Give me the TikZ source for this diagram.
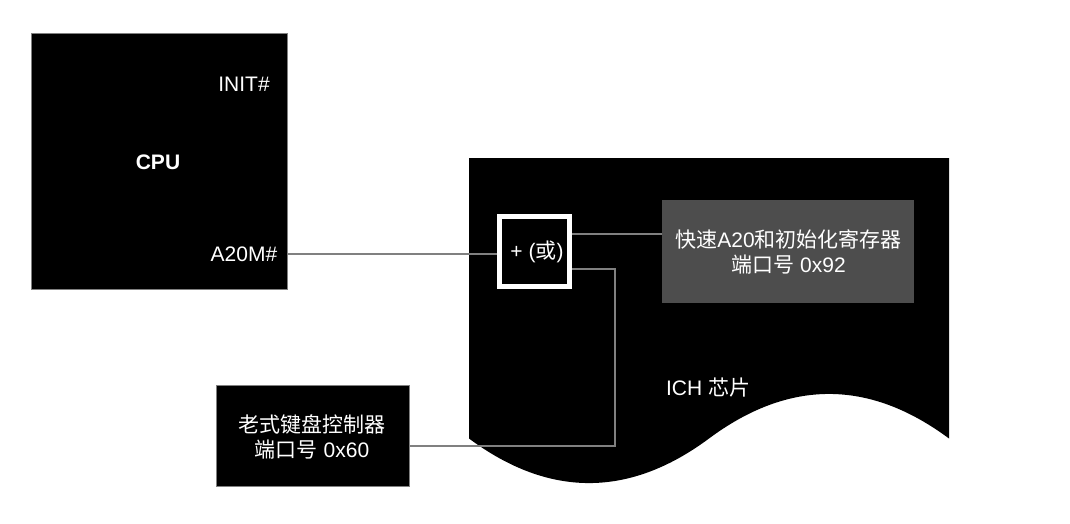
\documentclass[tikz,border=0pt]{standalone}
\usepackage{fontspec}
\setmainfont{Liberation Sans}
\newfontfamily\cjk{Noto Sans CJK SC}
\definecolor{wire}{HTML}{808080}
\definecolor{regfill}{HTML}{4D4D4D}
\tikzset{
  lbl/.style={text=white, font=\fontsize{21}{24.5}\selectfont, align=center, inner sep=0pt},
  blackbox/.style={fill=black, draw=wire, line width=0.8pt, inner sep=0pt},
  wireline/.style={draw=wire, line width=2pt},
}
\begin{document}
\begin{tikzpicture}[x=1pt,y=-1pt]
\fill[white] (0,0) rectangle (1070,524);
\useasboundingbox (0,0) rectangle (1070,524);
% CPU
\node[blackbox, minimum width=256, minimum height=256] (cpu) at (159,161) {};
\node[lbl] (init) at (244,84) {INIT\#};
\node[lbl, font=\fontsize{21}{24.5}\selectfont\bfseries] (cpulbl) at (158,162) {CPU};
\node[lbl] (a20m) at (244,254) {A20M\#};
% ICH chip (document shape)
\fill[black] (469,158) coordinate (ichtl) -- (949,158) -- (949,438.5)
  .. controls (869,379.1) and (789,379.1) .. (709,438.5)
  .. controls (629,497.9) and (549,497.9) .. (469,438.5) -- cycle;
\node[lbl] (ich) at (708,388) {ICH {\cjk 芯片}};
% fast A20 register
\node[fill=regfill, minimum width=252, minimum height=103, inner sep=0pt] (fast) at (788,251.5) {};
\node[lbl] (fastlbl) at (788.5,252) {{\cjk 快速}A20{\cjk 和初始化寄存器}\\{\cjk 端口号} 0x92};
% keyboard controller
\node[blackbox, minimum width=193, minimum height=101] (kbd) at (312.5,435.5) {};
\node[lbl] (kbdlbl) at (312,437) {{\cjk 老式键盘控制器}\\{\cjk 端口号} 0x60};
% OR gate box
\node[fill=black, minimum width=70, minimum height=70, inner sep=0pt] (orbox) at (534.5,251.5) {};
% connectors
\draw[wireline] (cpu.east |- a20m) -- (orbox.west |- a20m);
\draw[wireline] ([yshift=17.5pt]orbox.east) -- ([yshift=17.5pt]orbox.east -| fast.west);
\draw[wireline] ([yshift=-10.5pt]kbd.east) -| ([xshift=45.5pt,yshift=-17.5pt]orbox.east) -- ([yshift=-17.5pt]orbox.east);
\node[draw=white, line width=5pt, minimum width=70, minimum height=70, inner sep=0pt] (orframe) at (orbox) {};
\node[lbl] (orlbl) at (537,252) {+ ({\cjk 或})};
\end{tikzpicture}
\end{document}
